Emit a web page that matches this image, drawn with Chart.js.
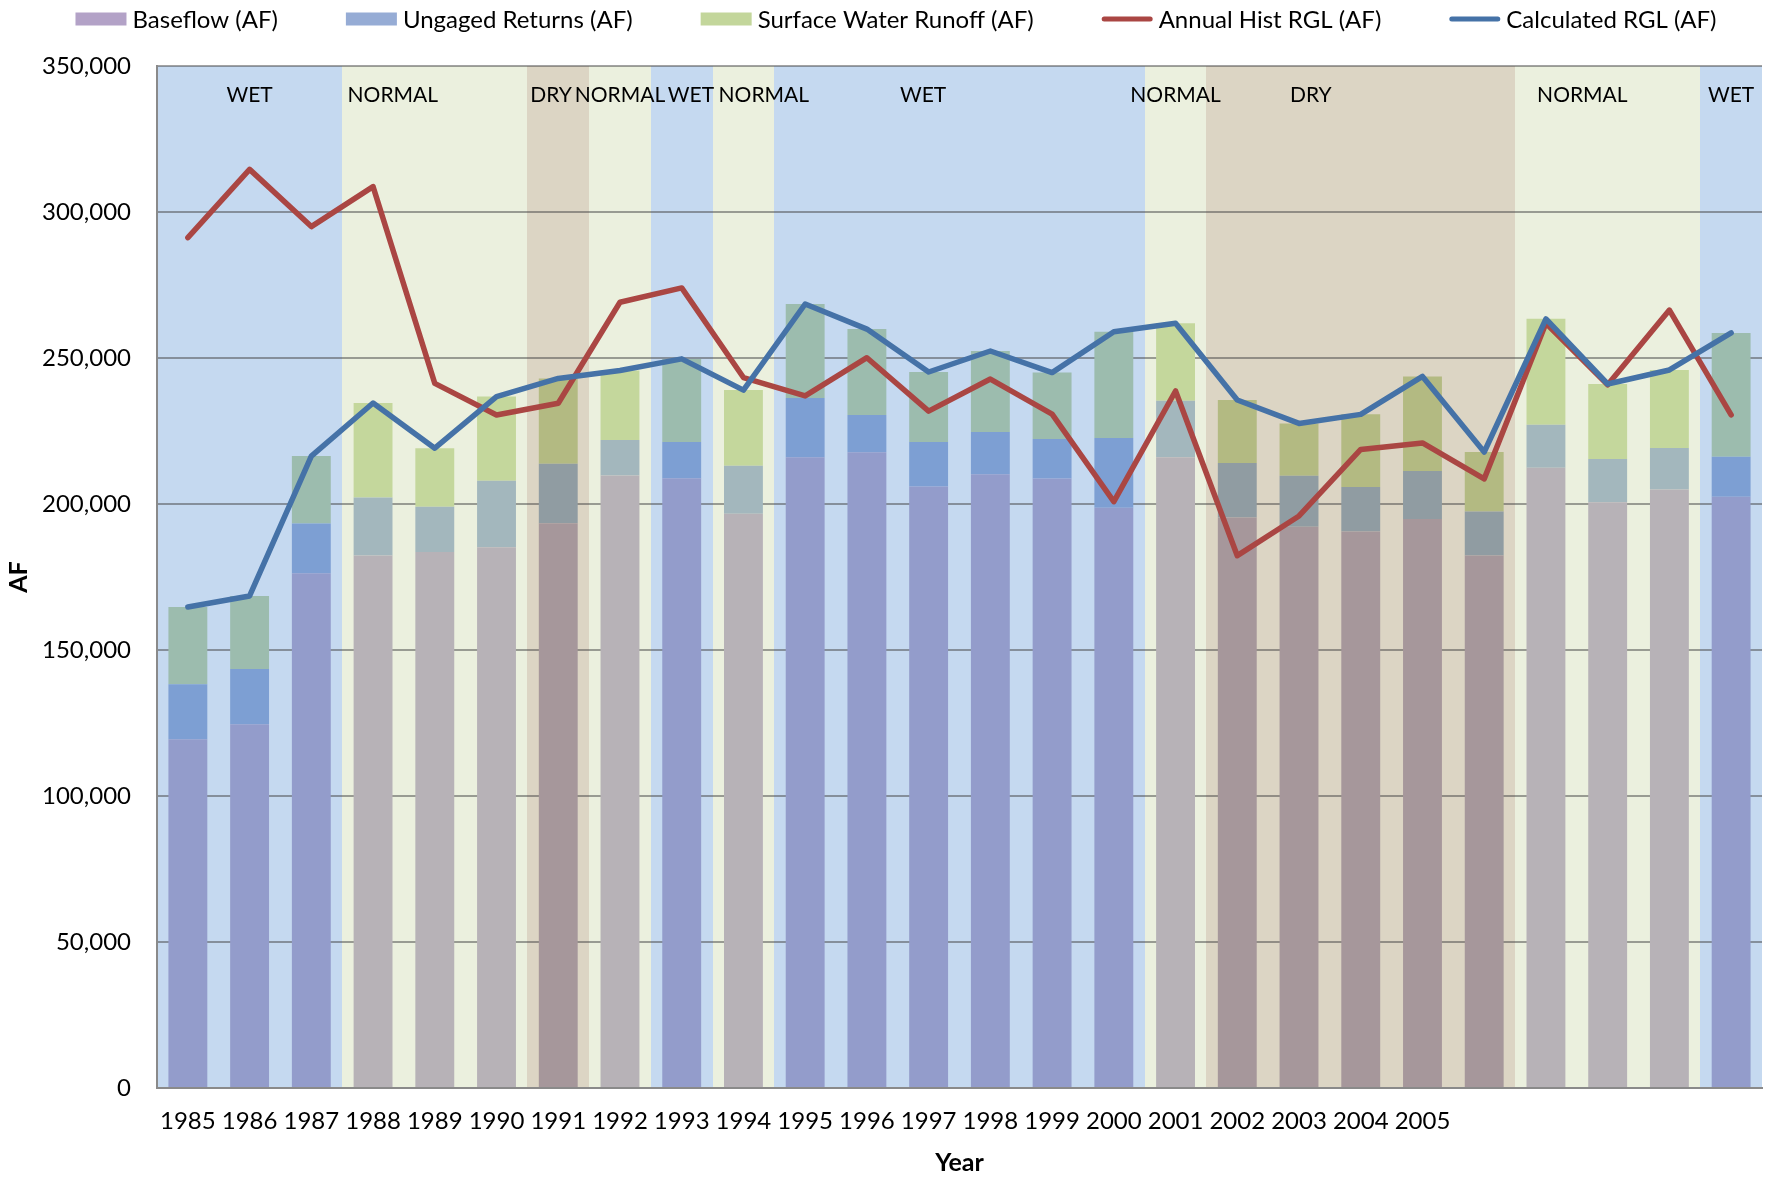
<!DOCTYPE html>
<html><head><meta charset="utf-8">
<script src="https://cdn.jsdelivr.net/npm/chart.js@4/dist/chart.umd.min.js"></script>
<style>html,body{margin:0;padding:0;background:#fff}#wrap{width:1769px;height:1179px}</style>
</head><body><div id="wrap"><canvas id="c" width="1769" height="1179"></canvas></div>
<script>
// ---------- data ----------
const categories = [1985,1986,1987,1988,1989,1990,1991,1992,1993,1994,1995,1996,1997,1998,1999,2000,2001,2002,2003,2004,2005,2006,2007,2008,2009,2010];
const tickLabels = ['1985','1986','1987','1988','1989','1990','1991','1992','1993','1994','1995','1996','1997','1998','1999','2000','2001','2002','2003','2004','2005','','','','',''];
const baseflow        = [119400,124600,176300,182400,183600,185200,193400,209800,208800,196700,216000,217700,206000,210200,208700,198700,216000,195400,192200,190600,194900,182400,212400,200600,205000,202500];
const ungagedReturns  = [18900,18900,17000,19800,15500,22800,20400,12100,12400,16400,20300,12800,15200,14500,13600,23900,19400,18600,17500,15200,16400,15000,14700,14800,14200,13700];
const surfaceRunoff   = [26400,25000,23100,32400,20000,28800,29200,23800,28500,25900,32200,29400,24000,27700,22700,36400,26500,21600,17900,24900,32400,20400,36300,25700,26700,42400];
const annualHistRGL   = [291200,314600,295000,308700,241300,230500,234500,269100,274000,243300,237000,250100,231800,242800,230800,200800,238700,182300,195900,218700,220900,208600,261900,240800,266400,230500];
const calculatedRGL   = [164700,168500,216400,234600,219100,236800,243000,245700,249700,239000,268500,259900,245200,252400,245000,259000,261900,235600,227600,230700,243700,217800,263400,241100,245900,258600];
const yearType        = ['W','W','W','N','N','N','D','N','W','N','W','W','W','W','W','W','N','D','D','D','D','D','N','N','N','W'];
const bandLabels      = ['WET','NORMAL','DRY','NORMAL','WET','NORMAL','WET','NORMAL','DRY','NORMAL','WET'];
const bandLabelAt     = [1.0,3.32,5.885,7.0,8.15,9.33,11.91,16.0,18.19,22.59,25.0];
const yTicks          = [0,50000,100000,150000,200000,250000,300000,350000];

// ---------- styles ----------
const FONT = 'Lato, "Open Sans", "DejaVu Sans", sans-serif';
const bandColor = {W:'#c5d9f0', N:'#ebf0de', D:'#dcd5c4'};
const barColors = {
  base: {W:'#939ccb', N:'#b7b2b7', D:'#a6979b'},
  ung:  {W:'#7d9fd3', N:'#a3b7bd', D:'#909ca2'},
  surf: {W:'#9cbcae', N:'#c4d79c', D:'#b3ba82'}
};
const legendStyle = [
  {kind:'rect', color:'#b3a2c7'},
  {kind:'rect', color:'#96acd5'},
  {kind:'rect', color:'#c3d69b'},
  {kind:'line', color:'#aa4643'},
  {kind:'line', color:'#4572a7'}
];

const bandsPlugin = {
  id: 'bands',
  beforeDraw(chart) {
    const {ctx, chartArea: a, scales: {x}} = chart;
    const w = x.getPixelForValue(1) - x.getPixelForValue(0);
    ctx.save();
    let i = 0;
    while (i < yearType.length) {
      let j = i;
      while (j + 1 < yearType.length && yearType[j + 1] === yearType[i]) j++;
      const x0 = Math.round(x.getPixelForValue(i) - w / 2);
      const x1 = Math.round(x.getPixelForValue(j) + w / 2);
      ctx.fillStyle = bandColor[yearType[i]];
      ctx.fillRect(x0, a.top, x1 - x0, a.bottom - a.top);
      i = j + 1;
    }
    ctx.fillStyle = '#000';
    ctx.font = '21px ' + FONT;
    ctx.textAlign = 'center';
    ctx.textBaseline = 'middle';
    bandLabels.forEach((t, k) => {
      ctx.fillText(t, x.getPixelForValue(bandLabelAt[k]), a.top + 29);
    });
    ctx.restore();
  },
  afterDraw(chart) {
    const ctx = chart.ctx;
    ctx.save();
    ctx.font = '24px ' + FONT;
    ctx.textBaseline = 'middle';
    ctx.textAlign = 'left';
    const boxW = 51, gapT = 6, gapI = 68, cy = 19;
    const items = chart.data.datasets.map((d, k) => ({text: d.label, ...legendStyle[k]}));
    const widths = items.map(it => boxW + gapT + ctx.measureText(it.text).width);
    const total = widths.reduce((s, v) => s + v, 0) + gapI * (items.length - 1);
    let xPos = 896 - total / 2;
    items.forEach((it, k) => {
      if (it.kind === 'rect') {
        ctx.fillStyle = it.color;
        ctx.fillRect(xPos, cy - 6.5, boxW, 13);
      } else {
        ctx.strokeStyle = it.color;
        ctx.lineWidth = 5;
        ctx.lineCap = 'round';
        ctx.beginPath();
        ctx.moveTo(xPos + 2.5, cy);
        ctx.lineTo(xPos + boxW - 2.5, cy);
        ctx.stroke();
      }
      ctx.fillStyle = '#000';
      ctx.fillText(it.text, xPos + boxW + gapT, cy + 1);
      xPos += widths[k] + gapI;
    });
    ctx.restore();
  }
};

const colorsFor = key => yearType.map(t => barColors[key][t]);

new Chart(document.getElementById('c'), {
  type: 'bar',
  data: {
    labels: tickLabels,
    datasets: [
      {label:'Baseflow (AF)', data: baseflow, backgroundColor: colorsFor('base'), stack:'flow', order:2, borderWidth:0},
      {label:'Ungaged Returns (AF)', data: ungagedReturns, backgroundColor: colorsFor('ung'), stack:'flow', order:2, borderWidth:0},
      {label:'Surface Water Runoff (AF)', data: surfaceRunoff, backgroundColor: colorsFor('surf'), stack:'flow', order:2, borderWidth:0},
      {type:'line', label:'Annual Hist RGL (AF)', data: annualHistRGL, borderColor:'#aa4643', backgroundColor:'#aa4643', borderWidth:5.5, pointRadius:0, tension:0, stack:'hist', order:1, borderJoinStyle:'round', borderCapStyle:'round', fill:false},
      {type:'line', label:'Calculated RGL (AF)', data: calculatedRGL, borderColor:'#4572a7', backgroundColor:'#4572a7', borderWidth:5.5, pointRadius:0, tension:0, stack:'calc', order:0, borderJoinStyle:'round', borderCapStyle:'round', fill:false}
    ]
  },
  options: {
    responsive: false,
    animation: false,
    devicePixelRatio: 1,
    events: [],
    layout: {padding: {top: 66, right: 7, left: 0, bottom: 0}},
    datasets: {bar: {barPercentage: 0.63, categoryPercentage: 1.0}},
    plugins: {legend: {display: false}, tooltip: {enabled: false}},
    scales: {
      x: {
        stacked: true,
        grid: {display: false, drawTicks: false},
        border: {display: true, color: '#8a8a8a', width: 2},
        ticks: {color: '#000', font: {family: FONT, size: 24}, padding: 19, maxRotation: 0, autoSkip: false},
        title: {display: true, text: 'Year', color: '#000', font: {family: FONT, size: 25, weight: 'bold'}, padding: {top: 0, bottom: 1}},
        afterFit(s) { s.height = 91; }
      },
      y: {
        stacked: true,
        min: 0, max: 350000,
        afterBuildTicks(s) { s.ticks = yTicks.map(v => ({value: v})); },
        grid: {color: 'rgba(70,70,70,0.5)', lineWidth: 2, drawTicks: false},
        border: {display: true, color: '#8a8a8a', width: 2},
        ticks: {color: '#000', font: {family: FONT, size: 24}, padding: 26, callback: v => v.toLocaleString('en-US')},
        title: {display: true, text: 'AF', color: '#000', font: {family: FONT, size: 25, weight: 'bold'}, padding: {top: 4, bottom: 0}},
        afterFit(s) { s.width = 157; }
      }
    }
  },
  plugins: [bandsPlugin]
});
</script>
</body></html>
